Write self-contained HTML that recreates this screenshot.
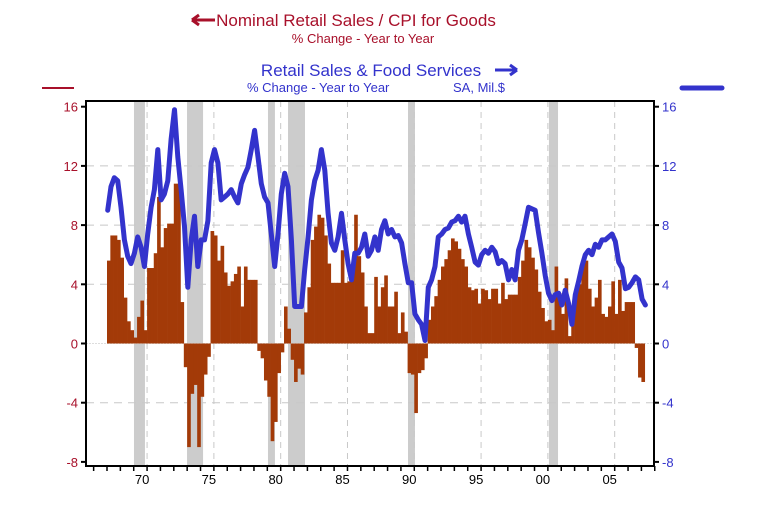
<!DOCTYPE html>
<html><head><meta charset="utf-8"><style>
body{margin:0;background:#fff;}
svg{display:block;font-family:"Liberation Sans",Arial,sans-serif;}
</style></head><body>
<svg width="760" height="513" viewBox="0 0 760 513">
<g>
<text x="356" y="26" font-size="17" fill="#a8102a" text-anchor="middle">Nominal Retail Sales / CPI for Goods</text>
<path d="M192 20 H215 M192 20 L199 15 M192 20 L199 25" stroke="#a8102a" stroke-width="3" fill="none"/>
<text x="363" y="43" font-size="13" fill="#a8102a" text-anchor="middle">% Change - Year to Year</text>
<text x="371" y="76" font-size="17" fill="#3333cc" text-anchor="middle">Retail Sales &amp; Food Services</text>
<path d="M495 70 H517 M517 70 L510 65 M517 70 L510 75" stroke="#3333cc" stroke-width="3" fill="none"/>
<text x="247" y="92" font-size="13" fill="#3333cc">% Change - Year to Year</text>
<text x="453" y="92" font-size="13" fill="#3333cc">SA, Mil.$</text>
<line x1="42" y1="88" x2="74" y2="88" stroke="#a8102a" stroke-width="2"/>
<line x1="682" y1="88" x2="722" y2="88" stroke="#3333cc" stroke-width="5" stroke-linecap="round"/>
</g>
<g id="recessions"></g>
<g id="grid"></g>
<g id="bars"></g>
<g id="line"></g>
<g id="axes"></g>
</svg>
<script>
const barValues=[5.6,7.3,7.3,7.0,5.8,3.1,1.5,0.9,0.4,1.8,2.9,0.9,5.1,5.1,6.1,9.9,6.5,7.8,8.1,8.1,10.8,10.8,2.8,-1.6,-7.0,-3.4,-2.8,-7.0,-3.6,-2.1,-0.9,7.6,7.3,5.6,6.6,4.8,3.9,4.2,4.7,5.2,2.5,5.2,4.3,4.3,4.3,-0.5,-1.0,-2.5,-3.6,-6.6,-5.3,-2.0,-0.6,2.5,1.0,-1.1,-2.6,-1.7,-2.1,2.1,3.8,7.0,7.9,8.7,8.5,7.3,5.4,4.1,4.1,4.1,6.3,4.1,4.2,4.6,8.7,5.9,4.8,2.5,0.7,0.7,4.5,2.5,3.8,4.6,2.5,2.5,3.5,0.7,2.1,0.8,-2.0,-2.1,-4.7,-2.0,-1.8,-1.0,1.6,2.5,3.2,4.3,5.2,5.7,6.3,7.1,6.9,6.4,5.7,5.2,3.8,3.6,3.7,2.7,3.7,3.6,3.0,3.7,3.7,2.7,4.1,3.0,3.3,3.3,3.3,4.5,5.6,7.0,6.5,5.8,5.0,3.5,2.4,1.5,1.6,0.9,5.2,3.4,2.0,4.4,0.5,2.0,3.4,4.0,5.3,5.6,3.7,2.5,3.1,4.3,2.0,1.8,2.5,4.2,2.0,4.3,2.2,2.8,2.8,2.8,-0.3,-2.3,-2.6];
const lineValues=[9.0,10.6,11.2,11.0,9.2,7.0,5.9,5.4,6.1,7.2,6.5,5.2,7.4,9.2,10.4,13.1,9.7,10.1,11.0,13.8,15.8,12.6,10.4,7.9,3.8,7.0,8.6,5.2,7.0,7.0,8.3,12.2,13.1,12.2,9.7,9.9,10.1,10.4,9.9,9.5,10.8,11.4,11.9,13.1,14.4,12.6,10.8,9.9,9.5,7.4,5.2,7.4,10.1,11.5,10.6,7.0,2.5,2.5,2.5,5.0,7.2,9.7,11.0,11.7,13.1,11.7,8.8,6.8,6.3,7.2,8.8,7.0,5.4,4.3,6.1,6.1,6.5,7.4,5.9,6.3,7.2,6.3,7.7,8.3,7.4,7.7,7.2,7.3,6.8,5.4,4.1,4.1,2.0,1.6,1.3,0.2,3.8,4.3,5.2,7.2,7.4,7.7,7.8,8.2,8.3,8.6,8.2,8.6,7.4,6.5,5.5,5.3,6.0,6.3,6.1,6.5,6.2,5.4,5.6,5.4,4.3,5.0,4.3,6.3,7.0,8.1,9.2,9.1,9.0,7.5,6.1,4.6,3.4,2.9,3.3,3.4,2.6,3.6,2.7,1.3,3.3,4.2,5.2,6.0,6.3,6.0,6.7,6.5,7.0,7.0,7.2,7.4,6.9,5.5,5.1,3.7,3.8,4.1,4.5,4.3,3.0,2.6];
const recessionStarts=[1969.02,1972.99,1979.05,1980.55,1989.53,2000.08];
const recessionEnds=[1969.84,1974.19,1979.57,1981.82,1990.05,2000.76];
const yTicks=[16,12,8,4,0,-4,-8];
const xLabelYears=[1970,1975,1980,1985,1990,1995,2000,2005];
const xLabels=["70","75","80","85","90","95","00","05"];
const startYear=1967;

const NS="http://www.w3.org/2000/svg";
const L=86,R=654,T=101,B=466;
function x(yr){return 107+13.36*(yr-startYear);}
function y(v){return 343.5-14.8*v;}
function mk(tag,attrs,parent){const e=document.createElementNS(NS,tag);for(const k in attrs)e.setAttribute(k,attrs[k]);parent.appendChild(e);return e;}
const gR=document.getElementById('recessions'),gG=document.getElementById('grid'),gB=document.getElementById('bars'),gL=document.getElementById('line'),gA=document.getElementById('axes');


recessionStarts.forEach((s,i)=>{
 const r=mk('rect',{x:x(s),y:T,width:x(recessionEnds[i])-x(s),height:B-T,fill:'#cccccc'},gR);
 
 
});


yTicks.forEach(v=>{if(v===16||v===-8)return;
 const l=mk('line',{x1:L,x2:R,y1:y(v),y2:y(v),stroke:v===0?'#ddd':'#c8c8c8','stroke-dasharray':v===0?'2 1':'8 6'},gG);
 
 
});
xLabelYears.forEach(yr=>{
 const l=mk('line',{x1:x(yr),x2:x(yr),y1:T,y2:B,stroke:'#c8c8c8','stroke-dasharray':'6 5'},gG);
 
 
});


const qw=13.36/4;
barValues.forEach((v,i)=>{
 const x0=x(startYear+i/4);
 const r=mk('rect',{x:x0,y:Math.min(y(v),y(0)),width:qw+0.3,height:Math.abs(y(v)-y(0)),fill:'#a33a08'},gB);
 
 
});
let d='';
lineValues.forEach((v,i)=>{d+=(i?'L':'M')+x(startYear+i/4+0.05).toFixed(1)+' '+y(v).toFixed(1);});
const p=mk('path',{d:d,fill:'none',stroke:'#3333cc','stroke-width':5,'stroke-linejoin':'round','stroke-linecap':'round'},gL);




const fr=mk('rect',{x:L,y:T,width:R-L,height:B-T,fill:'none',stroke:'#000','stroke-width':2},gA);


yTicks.forEach(v=>{
 mk('line',{x1:L-5,x2:L,y1:y(v),y2:y(v),stroke:'#000','stroke-width':2},gA);
 mk('line',{x1:R,x2:R+5,y1:y(v),y2:y(v),stroke:'#000','stroke-width':2},gA);
 const t=mk('text',{x:L-8,y:y(v)+5,'font-size':13,fill:'#a8102a','text-anchor':'end'},gA);t.textContent=v;
 
 
 const t2=mk('text',{x:R+8,y:y(v)+5,'font-size':13,fill:'#3333cc'},gA);t2.textContent=v;
 
 
});
for(let yr=1966;yr<=2008;yr++){mk('line',{x1:x(yr),x2:x(yr),y1:B,y2:B+5,stroke:'#000','stroke-width':1.5},gA);}
xLabelYears.forEach((yr,i)=>{
 const t=mk('text',{x:x(yr)-5,y:B+18,'font-size':13,fill:'#000','text-anchor':'middle'},gA);t.textContent=xLabels[i];
 
 
});
</script>
</body></html>
